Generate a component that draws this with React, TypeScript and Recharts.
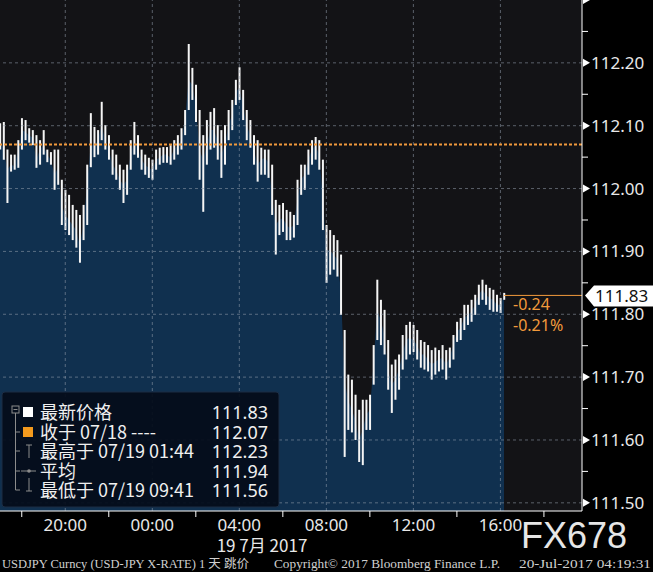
import React from 'react';
import { ComposedChart, Area, Bar, XAxis, YAxis, CartesianGrid, ReferenceLine } from 'recharts';

// 10-minute bars starting 07/18 17:00
const STEP_MIN = 10;

const HIGH = [
  112.104, 112.106, 112.062, 112.054, 112.054, 112.077, 112.112, 112.109, 112.096, 112.093,
  112.085, 112.077, 112.093, 112.062, 112.058, 112.062, 112.062, 112.014, 111.998, 111.990,
  111.974, 111.966, 111.958, 111.974, 112.038, 112.120, 112.098, 112.093, 112.138, 112.101,
  112.085, 112.062, 112.054, 112.038, 112.030, 112.038, 112.077, 112.106, 112.085, 112.062,
  112.054, 112.049, 112.046, 112.062, 112.065, 112.066, 112.066, 112.069, 112.077, 112.085,
  112.096, 112.125, 112.230, 112.192, 112.165, 112.125, 112.085, 112.109, 112.122, 112.128,
  112.101, 112.093, 112.101, 112.125, 112.141, 112.173, 112.193, 112.157, 112.125, 112.109,
  112.085, 112.077, 112.065, 112.062, 112.062, 112.038, 111.982, 111.974, 111.977, 111.966,
  111.963, 111.958, 112.014, 112.038, 112.038, 112.062, 112.077, 112.082, 112.077, 112.046,
  111.942, 111.934, 111.926, 111.918, 111.895, 111.775, 111.704, 111.696, 111.672, 111.648,
  111.664, 111.664, 111.672, 111.751, 111.855, 111.823, 111.807, 111.759, 111.720, 111.728,
  111.736, 111.767, 111.783, 111.788, 111.783, 111.775, 111.759, 111.756, 111.751, 111.743,
  111.747, 111.743, 111.751, 111.743, 111.747, 111.767, 111.788, 111.794, 111.815, 111.815,
  111.823, 111.831, 111.847, 111.855, 111.847, 111.842, 111.839, 111.831, 111.826, 111.834,
];

const LOW = [
  112.062, 112.046, 111.977, 112.027, 112.030, 112.033, 112.062, 112.077, 112.073, 112.069,
  112.033, 112.038, 112.054, 112.042, 112.038, 111.998, 112.006, 111.942, 111.934, 111.926,
  111.918, 111.906, 111.882, 111.918, 111.942, 112.034, 112.050, 112.054, 112.077, 112.062,
  112.046, 112.022, 112.014, 111.998, 111.977, 111.990, 112.030, 112.054, 112.049, 112.030,
  112.022, 112.017, 112.014, 112.030, 112.038, 112.041, 112.041, 112.038, 112.046, 112.054,
  112.062, 112.085, 112.125, 112.141, 112.106, 112.014, 111.963, 112.038, 112.062, 112.065,
  112.046, 112.017, 112.038, 112.077, 112.093, 112.133, 112.141, 112.109, 112.077, 112.065,
  112.038, 112.011, 112.022, 112.022, 112.017, 111.958, 111.895, 111.926, 111.931, 111.918,
  111.918, 111.922, 111.942, 111.990, 111.998, 112.022, 112.038, 112.046, 112.030, 111.934,
  111.850, 111.863, 111.871, 111.860, 111.799, 111.573, 111.616, 111.612, 111.600, 111.565,
  111.560, 111.616, 111.616, 111.688, 111.759, 111.751, 111.736, 111.680, 111.643, 111.664,
  111.680, 111.712, 111.728, 111.736, 111.740, 111.728, 111.715, 111.712, 111.709, 111.696,
  111.704, 111.709, 111.712, 111.696, 111.715, 111.728, 111.756, 111.759, 111.775, 111.783,
  111.788, 111.799, 111.815, 111.823, 111.815, 111.807, 111.804, 111.804, 111.802, 111.823,
];

const CLOSE = [
  112.077, 112.062, 112.030, 112.038, 112.036, 112.062, 112.093, 112.090, 112.085, 112.081,
  112.046, 112.062, 112.069, 112.054, 112.046, 112.022, 112.033, 111.974, 111.958, 111.950,
  111.942, 111.934, 111.910, 111.942, 112.006, 112.069, 112.069, 112.077, 112.101, 112.077,
  112.062, 112.038, 112.030, 112.014, 112.006, 112.014, 112.054, 112.077, 112.065, 112.046,
  112.038, 112.033, 112.030, 112.046, 112.049, 112.054, 112.054, 112.049, 112.062, 112.069,
  112.077, 112.109, 112.173, 112.165, 112.133, 112.062, 112.046, 112.069, 112.093, 112.093,
  112.077, 112.054, 112.069, 112.101, 112.117, 112.154, 112.160, 112.133, 112.101, 112.085,
  112.062, 112.038, 112.046, 112.049, 112.042, 111.990, 111.942, 111.950, 111.953, 111.942,
  111.937, 111.942, 111.982, 112.014, 112.022, 112.046, 112.062, 112.069, 112.054, 111.990,
  111.902, 111.902, 111.895, 111.887, 111.839, 111.696, 111.664, 111.648, 111.632, 111.600,
  111.616, 111.640, 111.648, 111.720, 111.807, 111.791, 111.767, 111.712, 111.688, 111.696,
  111.712, 111.736, 111.759, 111.763, 111.759, 111.751, 111.736, 111.736, 111.728, 111.720,
  111.724, 111.728, 111.731, 111.720, 111.731, 111.751, 111.772, 111.778, 111.794, 111.799,
  111.804, 111.815, 111.831, 111.839, 111.831, 111.826, 111.823, 111.815, 111.815, 111.830,
];

const PREV_CLOSE = 112.07;
const LAST = 111.83;
const CHANGE = '-0.24';
const CHANGE_PCT = '-0.21%';

const Y_MIN = 111.487;
const Y_MAX = 112.3;
const Y_TICKS = [
  111.5, 111.55, 111.6, 111.65, 111.7, 111.75, 111.8, 111.85,
  111.9, 111.95, 112.0, 112.05, 112.1, 112.15, 112.2, 112.25, 112.3,
];
const Y_LABELED_MAX = 112.2;
const GRID_PRICES = [111.5, 111.6, 111.7, 111.8, 111.9, 112.0, 112.1, 112.2];

// minutes after 17:00
const X_MAX = 1605;
const MINOR_TIMES = [60, 300, 540, 780, 1020, 1260, 1500];
const MAJOR_TIMES = [180, 420, 660, 900, 1140, 1380];
const TIME_LABELS = ['20:00', '00:00', '04:00', '08:00', '12:00', '16:00'];
const DATE_LABEL = '19 7月 2017';

const LEGEND_LABELS = ['最新价格', '收于 07/18 ----', '最高于 07/19 01:44', '平均', '最低于 07/19 09:41'];
const LEGEND_VALUES = ['111.83', '112.07', '112.23', '111.94', '111.56'];

const FOOTER_LEFT = 'USDJPY Curncy (USD-JPY X-RATE) 1 天  跳价';
const FOOTER_MID = 'Copyright© 2017 Bloomberg Finance L.P.';
const FOOTER_RIGHT = '20-Jul-2017 04:19:31';

const data = CLOSE.map((close, i) => ({
  t: i * STEP_MIN,
  close,
  range: [LOW[i], HIGH[i]],
}));

const ORANGE = '#f29a3c';
const GRID = 'rgba(150,160,175,0.55)';
const SANS = '"Noto Sans", "Noto Sans CJK SC", sans-serif';
const CJK = '"Noto Sans CJK SC", "Noto Sans", sans-serif';

const XTick = (props: any) => {
  const { x, y, payload } = props;
  const idx = MAJOR_TIMES.indexOf(payload.value);
  if (idx >= 0) {
    return (
      <text x={x} y={y + 20} textAnchor="middle" fontSize={17} fontFamily={SANS} fill="#e8e8e8">
        {TIME_LABELS[idx]}
      </text>
    );
  }
  return <line x1={x} x2={x} y1={y} y2={y + 6} stroke="#ffffff" />;
};

const YTick = (props: any) => {
  const { x, y, payload } = props;
  const major = Math.round(payload.value * 100) % 10 === 0;
  if (major) {
    return (
      <g>
        <polygon points={`${x + 1},${y - 4} ${x + 8},${y} ${x + 1},${y + 4}`} fill="#ffffff" />
        {payload.value <= Y_LABELED_MAX + 0.001 && (
          <text x={x + 9} y={y + 6} fontSize={17} fontFamily={SANS} fill="#e8e8e8">
            {payload.value.toFixed(2)}
          </text>
        )}
      </g>
    );
  }
  return <line x1={x} x2={x + 6} y1={y} y2={y} stroke="#ffffff" />;
};

const LastLabel = (props: any) => {
  const { viewBox } = props;
  const left = viewBox.x;
  const right = viewBox.x + viewBox.width;
  const cy = viewBox.y;
  return (
    <g>
      <polygon
        points={`${right + 3},${cy} ${right + 12},${cy - 10} 653,${cy - 10} 653,${cy + 11} ${right + 12},${cy + 11}`}
        fill="#ffffff"
      />
      <text x={right + 13} y={cy + 7} fontSize={17} fontFamily={SANS} fill="#111111">
        {LAST.toFixed(2)}
      </text>
      <text x={left + 9} y={cy + 15} fontSize={16} fontFamily={SANS} fill={ORANGE}>
        {CHANGE}
      </text>
      <text x={left + 9} y={cy + 36} fontSize={16} fontFamily={SANS} fill={ORANGE}>
        {CHANGE_PCT}
      </text>
    </g>
  );
};

const Overlay = () => {
  const rowY = [20, 40, 59, 79, 98];
  const glyph = '#8c8c8c';
  return (
    <svg width={653} height={572} style={{ position: 'absolute', left: 0, top: 0, pointerEvents: 'none' }}>
      <g transform="translate(2,392)">
        <rect x={0} y={0} width={277} height={115} rx={3} fill="rgba(4,12,26,0.93)" stroke="#1c2c44" />
        <rect x={10} y={14} width={7} height={7} fill="none" stroke={glyph} />
        <line x1={11.5} x2={15.5} y1={17.5} y2={17.5} stroke={glyph} />
        <line x1={13.5} x2={13.5} y1={21} y2={98} stroke={glyph} />
        {rowY.slice(1).map((ry) => (
          <line key={ry} x1={13.5} x2={18} y1={ry} y2={ry} stroke={glyph} />
        ))}
        <rect x={21} y={15} width={10} height={10} fill="#ffffff" />
        <rect x={21} y={35} width={10} height={10} fill="#f39a1e" />
        <line x1={27} x2={27} y1={53} y2={66} stroke={glyph} />
        <line x1={24} x2={30} y1={53} y2={53} stroke={glyph} />
        <line x1={19} x2={34} y1={79} y2={79} stroke={glyph} />
        <circle cx={27} cy={79} r={1.8} fill={glyph} />
        <line x1={27} x2={27} y1={86} y2={99} stroke={glyph} />
        <line x1={24} x2={30} y1={99} y2={99} stroke={glyph} />
        {LEGEND_LABELS.map((lab, i) => (
          <text key={lab} x={38} y={rowY[i] + 7} fontSize={18} fontFamily={CJK} fill="#f0f0f0">
            {lab}
          </text>
        ))}
        {LEGEND_VALUES.map((v, i) => (
          <text key={i} x={266} y={rowY[i] + 7} textAnchor="end" fontSize={18} fontFamily={SANS} fill="#f0f0f0">
            {v}
          </text>
        ))}
      </g>
      <text x={262} y={552} textAnchor="middle" fontSize={17} fontFamily={CJK} fill="#e8e8e8">
        {DATE_LABEL}
      </text>
      <text x={521} y={548} fontSize={36} fontFamily='"Liberation Sans", sans-serif' fill="#e6e6e6">
        FX678
      </text>
      <g fontFamily='"Liberation Serif", "Noto Sans CJK SC", serif' fontSize={12} fill="#d0d0d0">
        <text x={2} y={568} textLength={247} lengthAdjust="spacingAndGlyphs">{FOOTER_LEFT}</text>
        <text x={274} y={568} textLength={226} lengthAdjust="spacingAndGlyphs">{FOOTER_MID}</text>
        <text x={519} y={568} textLength={132} lengthAdjust="spacingAndGlyphs">{FOOTER_RIGHT}</text>
      </g>
    </svg>
  );
};

export default function App() {
  return (
    <div style={{ position: 'relative', width: 653, height: 572, background: '#000' }}>
      <style>{'body{margin:0;background:#000}'}</style>
      <ComposedChart width={653} height={572} data={data} margin={{ top: 0, right: 0, bottom: 0, left: 0 }}>
        <CartesianGrid fill="#131316" stroke="none" horizontal={false} vertical={false} />
        <XAxis
          dataKey="t"
          type="number"
          domain={[0, X_MAX]}
          ticks={[...MINOR_TIMES, ...MAJOR_TIMES].sort((a, b) => a - b)}
          interval={0}
          height={61}
          tickSize={0}
          tickMargin={0}
          tickLine={false}
          axisLine={{ stroke: '#ffffff' }}
          tick={<XTick />}
          allowDataOverflow
        />
        <YAxis
          orientation="right"
          type="number"
          domain={[Y_MIN, Y_MAX]}
          ticks={Y_TICKS}
          interval={0}
          width={71}
          tickSize={0}
          tickMargin={0}
          tickLine={false}
          axisLine={{ stroke: '#ffffff' }}
          tick={<YTick />}
          allowDataOverflow
        />
        <Area
          dataKey="close"
          type="linear"
          baseValue={Y_MIN}
          stroke="none"
          fill="#10304f"
          fillOpacity={1}
          dot={false}
          activeDot={false}
          isAnimationActive={false}
        />
        {GRID_PRICES.map((v) => (
          <ReferenceLine key={`h${v}`} y={v} stroke={GRID} strokeDasharray="3 3" />
        ))}
        {MAJOR_TIMES.map((t) => (
          <ReferenceLine key={`v${t}`} x={t} stroke={GRID} strokeDasharray="3 3" />
        ))}
        <Bar dataKey="range" barSize={2} fill="#f5f5f5" isAnimationActive={false} />
        <ReferenceLine y={PREV_CLOSE} stroke={ORANGE} strokeWidth={2} strokeDasharray="3 2" />
        <ReferenceLine
          segment={[
            { x: (CLOSE.length - 1) * STEP_MIN, y: LAST },
            { x: X_MAX, y: LAST },
          ]}
          stroke={ORANGE}
          label={<LastLabel />}
        />
      </ComposedChart>
      <Overlay />
    </div>
  );
}
